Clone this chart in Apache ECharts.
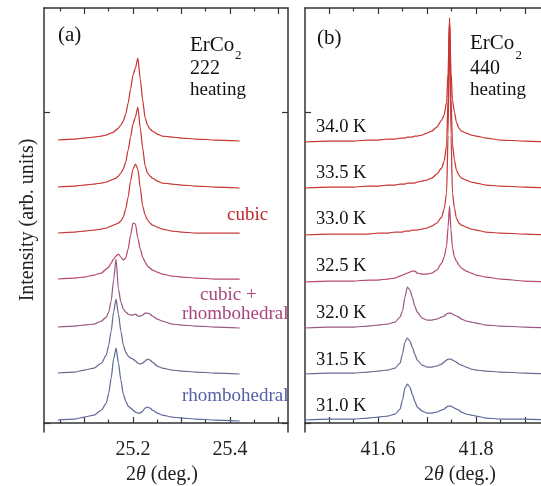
<!DOCTYPE html>
<html>
<head>
<meta charset="utf-8">
<script src="https://cdn.jsdelivr.net/npm/echarts@6.0.0/dist/echarts.min.js"></script>
<style>
html,body{margin:0;padding:0;background:#fff;}
#chart{width:541px;height:486px;}
</style>
</head>
<body>
<div id="chart"></div>
<script>
// ---------- DATA ----------
// Panel (a): ErCo2 222 reflection, 2theta (deg.)
const xA = [25.045, 25.08, 25.10, 25.12, 25.135, 25.145, 25.15, 25.155, 25.16, 25.165, 25.17, 25.175, 25.18, 25.185, 25.19, 25.195, 25.20, 25.205, 25.21, 25.215, 25.22, 25.225, 25.23, 25.235, 25.24, 25.25, 25.26, 25.28, 25.30, 25.33, 25.37, 25.42];
const a340 = [0,1,2,3,4,5,6,7,8,10,12,15,19,26,37,51,65,72,82,61,40,22,15,11,9,6,4,3,2,1,0,-1];
const a335 = [0,1,2,3,4,5,6,7,8,9,11,14,18,25,37,50,63,70,80,59,39,21,14,11,9,6,4,3,2,1,0,-1];
const a330 = [0,1,2,3,4,5,6,7,8,9,10,12,16,24,36,52,64,69,64,45,27,18,13,10,8,6,4,2,1,0,0,0];
const a325 = [0,1,2,4,6,10,12,16,20,23,25,22,19,21,30,44,56,55,41,30,22,17,13,11,9,7,5,3,2,1,0,0];
const a320 = [0,1,2,3,6,10,15,26,47,68,38,25,18,15,13,12,12,13,11,11,12,14,14,13,11,8,6,3,2,1,0,-1];
const a315 = [0,1,3,5,10,18,28,42,61,74,59,42,28,21,17,15,14,12,10,9,10,12,14,13,11,7,5,3,2,1,0,-1];
const a310 = [0,1,3,5,10,17,27,42,61,72,57,40,26,19,14,12,10,8,7,7,9,12,13,12,10,7,5,3,2,1,0,-1];
const offsetsA = [283, 236, 190, 144, 96, 50, 3];

// Panel (b): ErCo2 440 reflection
const xB = [41.45, 41.50, 41.55, 41.58, 41.60, 41.62, 41.635, 41.645, 41.65, 41.655, 41.66, 41.665, 41.67, 41.675, 41.68, 41.69, 41.70, 41.71, 41.72, 41.73, 41.735, 41.74, 41.743, 41.746, 41.749, 41.752, 41.756, 41.76, 41.765, 41.77, 41.78, 41.79, 41.80, 41.82, 41.85, 41.90, 41.95];
const b340 = [0,1,1,2,2,3,3,4,4,4,5,5,5,6,6,7,9,11,15,22,27,40,70,124,70,42,30,20,14,11,9,7,6,4,2,1,0];
const b335 = [0,1,1,2,2,3,3,4,4,4,5,5,5,5,6,7,8,10,14,20,27,42,90,170,90,44,28,18,13,10,8,6,5,3,2,1,0];
const b330 = [0,1,1,1,2,2,3,3,3,4,4,4,5,5,5,6,7,9,12,18,26,42,100,217,100,42,27,17,12,10,8,6,5,3,2,1,0];
const b325 = [0,1,1,2,2,3,4,6,7,8,9,10,11,11,9,8,8,9,12,19,25,36,55,76,52,34,25,21,17,14,11,9,7,5,3,1,0];
const b320 = [0,1,1,2,3,4,6,11,17,31,41,38,31,22,16,10,8,8,9,11,12,14,15,15,15,14,13,12,11,9,7,6,5,3,2,1,0];
const b315 = [0,1,1,2,3,4,6,11,20,32,36,33,27,20,14,9,7,7,8,10,12,14,15,15,15,14,13,12,10,9,7,5,4,3,2,1,0];
const b310 = [0,1,1,2,3,4,6,11,20,32,36,33,26,19,13,9,7,7,8,10,11,13,14,14,14,13,12,11,10,8,6,5,4,2,1,1,0];
const offsetsB = [281, 235, 188, 141, 95, 49, 3];

const temperatures = ['34.0 K', '33.5 K', '33.0 K', '32.5 K', '32.0 K', '31.5 K', '31.0 K'];

// axis ticks / labels
const xRangeA = [25.0165, 25.5196];
const xRangeB = [41.451, 41.949];
const yRange = [-9, 415];
const tickLabelsA = [25.2, 25.4];
const tickLabelsB = [41.6, 41.8];
const majorTicksA = [25.1, 25.2, 25.3, 25.4, 25.5];
const minorTicksA = [25.05, 25.15, 25.25, 25.35, 25.45];
const majorTicksB = [41.5, 41.6, 41.7, 41.8, 41.9];
const minorTicksB = [41.55, 41.65, 41.75, 41.85];
const yTicks = [0, 311];

// ---------- STYLE ----------
const SERIF = 'Liberation Serif, Times New Roman, serif';
const lineColors = ['#c93532', '#c93532', '#c63a3c', '#b54a6c', '#985a80', '#6b6b92', '#5f6b98'];

const seriesA = [a340, a335, a330, a325, a320, a315, a310];
const seriesB = [b340, b335, b330, b325, b320, b315, b310];

const series = [];
seriesA.forEach((vals, k) => {
  series.push({
    type: 'line', xAxisIndex: 0, yAxisIndex: 0,
    data: xA.map((x, i) => [x, offsetsA[k] + vals[i]]),
    showSymbol: false, smooth: 0.25, smoothMonotone: 'x',
    lineStyle: { color: lineColors[k], width: 1.25 },
    z: 10 - k
  });
});
seriesB.forEach((vals, k) => {
  series.push({
    type: 'line', xAxisIndex: 4, yAxisIndex: 2,
    data: xB.map((x, i) => [x, offsetsB[k] + vals[i]]),
    showSymbol: false, smooth: 0.25, smoothMonotone: 'x',
    lineStyle: { color: lineColors[k], width: 1.25 },
    z: 10 - k
  });
});

const axisLineStyle = { show: true, lineStyle: { color: '#333', width: 1.5 } };
const nameRich = {
  n: { fontFamily: SERIF, fontSize: 20, color: '#222' },
  i: { fontFamily: SERIF, fontSize: 20, color: '#222', fontStyle: 'italic' }
};
const xName = '{n|2}{i|θ}{n| (deg.)}';

function xAxes(gridIndex, range, labels, major, minor, padding) {
  return [
    {
      type: 'value', gridIndex, position: 'bottom', min: range[0], max: range[1],
      axisLine: axisLineStyle,
      axisTick: { inside: true, length: 6, customValues: major, lineStyle: { color: '#333', width: 1.2 } },
      axisLabel: { customValues: labels, fontFamily: SERIF, fontSize: 20, color: '#222', margin: 8,
                   formatter: v => v.toFixed(1) },
      splitLine: { show: false },
      name: xName, nameLocation: 'middle', nameGap: 24,
      nameTextStyle: { rich: nameRich, padding: padding }
    },
    {
      type: 'value', gridIndex, position: 'bottom', min: range[0], max: range[1],
      axisLine: { show: false },
      axisTick: { inside: true, length: 3.5, customValues: minor, lineStyle: { color: '#333', width: 1.2 } },
      axisLabel: { show: false }, splitLine: { show: false }
    },
    {
      type: 'value', gridIndex, position: 'top', min: range[0], max: range[1],
      axisLine: axisLineStyle,
      axisTick: { inside: true, length: 6, customValues: major, lineStyle: { color: '#333', width: 1.2 } },
      axisLabel: { show: false }, splitLine: { show: false }
    },
    {
      type: 'value', gridIndex, position: 'top', min: range[0], max: range[1],
      axisLine: { show: false },
      axisTick: { inside: true, length: 3.5, customValues: minor, lineStyle: { color: '#333', width: 1.2 } },
      axisLabel: { show: false }, splitLine: { show: false }
    }
  ];
}

function yAxes(gridIndex, withName) {
  const base = {
    type: 'value', gridIndex, min: yRange[0], max: yRange[1],
    axisLine: axisLineStyle,
    axisTick: { inside: true, length: 6, customValues: yTicks, lineStyle: { color: '#333', width: 1.2 } },
    axisLabel: { show: false }, splitLine: { show: false }
  };
  const left = Object.assign({}, base, { position: 'left' });
  if (withName) {
    Object.assign(left, {
      name: 'Intensity (arb. units)', nameLocation: 'middle', nameGap: 6,
      nameTextStyle: { fontFamily: SERIF, fontSize: 20, color: '#222' }
    });
  }
  const right = Object.assign({}, base, { position: 'right' });
  return [left, right];
}

function txt(text, x, y, size, color, align) {
  return {
    type: 'text', x: x, y: y, z: 100,
    style: {
      text: text, fill: color || '#111',
      font: size + 'px ' + SERIF,
      align: align || 'left', verticalAlign: 'middle',
      textAlign: align || 'left', textVerticalAlign: 'middle'
    }
  };
}

const tempLabelY = [127, 173, 219, 266, 313, 360, 406];
const graphics = [
  txt('(a)', 58, 35.5, 21),
  txt('ErCo', 190, 45, 21),
  txt('2', 235, 56, 13),
  txt('222', 190, 69, 20),
  txt('heating', 190, 90.5, 19),
  txt('(b)', 317, 38, 21),
  txt('ErCo', 470, 43, 21),
  txt('2', 515.5, 56, 13),
  txt('440', 470, 69, 20),
  txt('heating', 470, 90.5, 19),
  txt('cubic', 227, 215.5, 19, '#c0282c'),
  txt('cubic +', 200, 295, 19, '#a8467c'),
  txt('rhombohedral', 182, 314.5, 19, '#a8467c'),
  txt('rhombohedral', 182, 396.5, 19, '#5660a6')
];
temperatures.forEach((t, k) => graphics.push(txt(t, 316, tempLabelY[k], 18.5)));

const option = {
  animation: false,
  backgroundColor: '#fff',
  grid: [
    { left: 44, top: 8, width: 244, height: 424, containLabel: false, outerBoundsMode: 'none' },
    { left: 305, top: 8, width: 244, height: 424, containLabel: false, outerBoundsMode: 'none' }
  ],
  xAxis: [].concat(
    xAxes(0, xRangeA, tickLabelsA, majorTicksA, minorTicksA, [0, 8, 0, 0]),
    xAxes(1, xRangeB, tickLabelsB, majorTicksB, minorTicksB, [0, 0, 0, 66])
  ),
  yAxis: [].concat(yAxes(0, true), yAxes(1, false)),
  series: series,
  graphic: graphics
};

const chart = echarts.init(document.getElementById('chart'), null, { renderer: 'canvas' });
chart.setOption(option);
</script>
</body>
</html>
